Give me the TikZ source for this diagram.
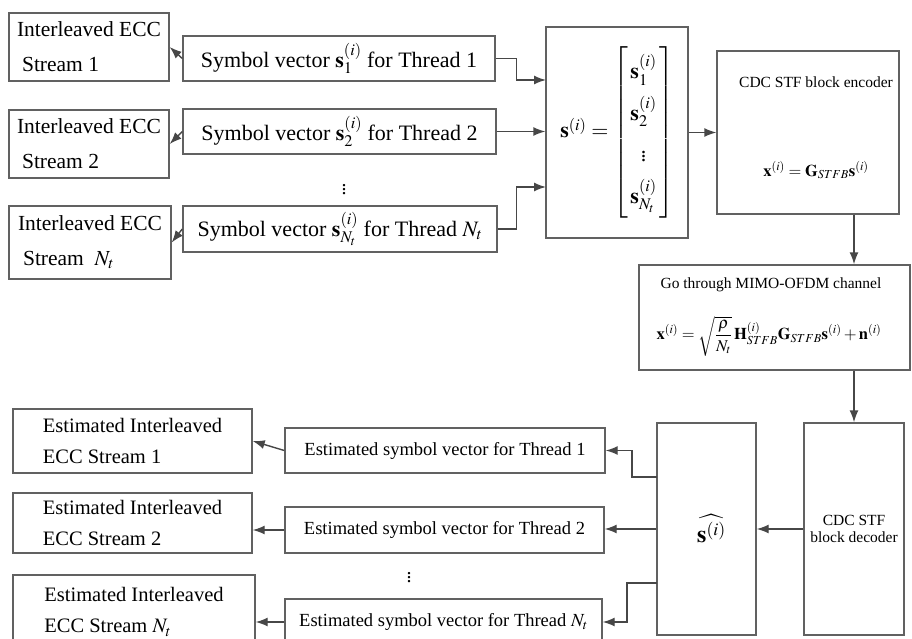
\documentclass[tikz,border=0pt]{standalone}
\usepackage{amsmath}
\usepackage{mathptmx}
\usepackage{fontspec}
\setmainfont{Liberation Serif}
\usetikzlibrary{arrows.meta,calc}
\definecolor{boxcol}{gray}{0.38}
\definecolor{linecol}{gray}{0.28}
\newcommand\fsA{\fontsize{21.5}{35}\selectfont}
\newcommand\fsB{\fontsize{22}{26}\selectfont}
\newcommand\fsC{\fontsize{20.5}{31}\selectfont}
\newcommand\fsD{\fontsize{18.5}{22}\selectfont}
\newcommand\fsE{\fontsize{15.5}{16.5}\selectfont}
\newcommand\fsF{\fontsize{16.5}{20}\selectfont}
\newcommand\fsV{\fontsize{20}{22}\selectfont}
\tikzset{
  box/.style={draw=boxcol, line width=1.4pt, rectangle, inner sep=0pt},
  arr/.style={draw=linecol, line width=1.4pt, -{Latex[length=12pt,width=9pt]}},
}
\begin{document}
\begin{tikzpicture}[x=1pt,y=-1pt]
\useasboundingbox (0,0) rectangle (912,639);
\clip (0,0) rectangle (912,639);
% input streams
\node[box, minimum width=160, minimum height=68, align=left, font=\fsA] (st1) at (89,47) {Interleaved ECC\\\hspace*{5pt}Stream 1};
\node[box, minimum width=160, minimum height=68, align=left, font=\fsA] (st2) at (89,144) {Interleaved ECC\\\hspace*{5pt}Stream 2};
\node[box, minimum width=162, minimum height=73, align=left, font=\fsA] (stN) at (90,242.5) {Interleaved ECC\\\hspace*{5pt}Stream~ $N_t$};
% symbol vectors
\node[box, minimum width=312, minimum height=45, font=\fsB] (sy1) at (339,58.5) {Symbol vector $\mathbf{s}_1^{(i)}$ for Thread 1};
\node[box, minimum width=313, minimum height=45, font=\fsB] (sy2) at (339.5,131.5) {Symbol vector $\mathbf{s}_2^{(i)}$ for Thread 2};
\node[box, minimum width=314, minimum height=46, font=\fsB] (syN) at (340,229) {Symbol vector $\mathbf{s}_{N_t}^{(i)}$ for Thread $N_t$};
\node[font=\fsV] (dots1) at (344,187) {$\vdots$};
% matrix
\node[box, minimum width=142, minimum height=211, font=\fsB] (mat) at (617,132.5)
 {\renewcommand{\arraystretch}{1.6}$\mathbf{s}^{(i)}=\left[\begin{array}{@{\,}c@{\,}}\mathbf{s}_1^{(i)}\\ \mathbf{s}_2^{(i)}\\ \vdots\\ \mathbf{s}_{N_t}^{(i)}\end{array}\right]$};
% encoder
\node[box, minimum width=182, minimum height=163] (enc) at (808,132.5) {};
\node[font=\fsE] (encT) at (816,82) {CDC STF block encoder};
\node[font=\fsF] (encF) at (816,170) {$\mathbf{x}^{(i)}=\mathbf{G}_{STFB}\mathbf{s}^{(i)}$};
% channel
\node[box, minimum width=271, minimum height=105] (mimo) at (774.5,317.5) {};
\node[font=\fsE] (mimoT) at (771,285) {Go through MIMO-OFDM channel};
\node[font=\fsF] (mimoF) at (769,336) {$\mathbf{x}^{(i)}=\sqrt{\dfrac{\rho}{N_t}}\,\mathbf{H}^{(i)}_{STFB}\mathbf{G}_{STFB}\mathbf{s}^{(i)}+\mathbf{n}^{(i)}$};
% decoder
\node[box, minimum width=100, minimum height=212, align=center, font=\fsE] (dec) at (854,529) {CDC STF\\block decoder};
\node[box, minimum width=99, minimum height=212, font=\fontsize{24}{28}\selectfont] (sh) at (706.5,529) {\hspace*{10pt}\raisebox{-8pt}{$\widehat{\mathbf{s}^{(i)}}$}};
% estimated symbol vectors
\node[box, minimum width=320, minimum height=45, font=\fsD] (es1) at (445,450.5) {Estimated symbol vector for Thread 1};
\node[box, minimum width=319, minimum height=46, font=\fsD] (es2) at (444.5,530) {Estimated symbol vector for Thread 2};
\node[box, minimum width=317, minimum height=46, font=\fsD] (esN) at (443.5,622) {Estimated symbol vector for Thread $N_t$};
\node[font=\fsV] (dots2) at (409,575) {$\vdots$};
% estimated outputs
\node[box, minimum width=239, minimum height=64, align=left, font=\fsC] (eo1) at (132.5,441) {Estimated Interleaved\\ECC Stream 1};
\node[box, minimum width=239, minimum height=60, align=left, font=\fsC] (eo2) at (132.5,523) {Estimated Interleaved\\ECC Stream 2};
\node[box, minimum width=242, minimum height=74, align=left, font=\fsC] (eoN) at (134,612) {Estimated Interleaved\\ECC Stream $N_t$};
% coordinates on box edges
\coordinate (in1) at (546,80);
\coordinate (inN) at (546,187);
\coordinate (o1) at (657,477);
\coordinate (oN) at (657,583);
% connectors
\draw[arr] (sy1.west) -- (st1.east);
\draw[arr] (sy2.west) -- (st2.east);
\draw[arr] (syN.west) -- (stN.east);
\draw[arr] (sy1.east) -- ++(21,0) |- (in1);
\draw[arr] (sy2.east) -- (sy2.east -| mat.west);
\draw[arr] (syN.east) -- ++(19,0) |- (inN);
\draw[arr] (mat.east) -- (enc.west);
\draw[arr] (enc.south -| dec.north) -- (mimo.north -| dec.north);
\draw[arr] (mimo.south -| dec.north) -- (dec.north);
\draw[arr] (dec.west) -- (sh.east);
\draw[arr] (o1) -- ++(-25,0) |- (es1.east);
\draw[arr] (sh.west) -- (sh.west -| es2.east);
\draw[arr] (oN) -- ++(-30,0) |- (esN.east);
\draw[arr] (es1.west) -- (eo1.east);
\draw[arr] (es2.west) -- (es2.west -| eo2.east);
\draw[arr] (esN.west) -- (esN.west -| eoN.east);
\end{tikzpicture}
\end{document}
